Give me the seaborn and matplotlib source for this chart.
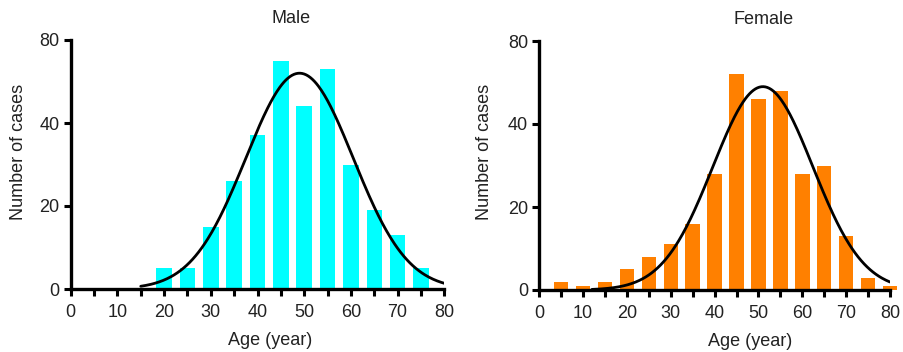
import numpy as np
import pandas as pd
import seaborn as sns
import matplotlib
matplotlib.use("Agg")
import matplotlib.pyplot as plt
from matplotlib.ticker import MultipleLocator

# ---- data ----
male_age = [20, 25, 30, 35, 40, 45, 50, 55, 60, 65, 70, 75]
male_cases = [5, 5, 15, 26, 37, 55, 44, 53, 30, 19, 13, 5]
female_age = [5, 10, 15, 20, 25, 30, 35, 40, 45, 50, 55, 60, 65, 70, 75, 80]
female_cases = [2, 1, 2, 5, 8, 11, 16, 28, 52, 46, 48, 28, 30, 13, 3, 1]

# fitted Gaussian curves (peak height, mean, sd, x-range)
male_fit = {"peak": 52, "mean": 49, "sd": 11.5, "start": 15, "end": 80}
female_fit = {"peak": 49, "mean": 51, "sd": 11.4, "start": 12, "end": 80}

x_ticks = [0, 10, 20, 30, 40, 50, 60, 70, 80]
y_ticks = [0, 20, 40, 60]
y_tick_labels = ["0", "20", "40", "80"]

titles = ["Male", "Female"]
x_label = "Age (year)"
y_label = "Number of cases"
colors = ["#00FFFF", "#FF8000"]

sns.set_theme(style="white")
plt.rcParams["font.family"] = ["Liberation Sans", "DejaVu Sans"]
FS = 13

fig = plt.figure(figsize=(9.04, 3.52), dpi=100)
W, H = 904, 352


def px_axes(x0, x1, ytop, ybot):
    return fig.add_axes([x0 / W, 1 - ybot / H, (x1 - x0) / W, (ybot - ytop) / H])


axes = [px_axes(70.7, 444.3, 40, 289), px_axes(539.3, 890, 41, 290)]
datasets = [(male_age, male_cases, male_fit), (female_age, female_cases, female_fit)]
title_x = [0.59, 0.64]
xlabel_x = [0.535, 0.60]

for i, (ax, (ages, cases, fit)) in enumerate(zip(axes, datasets)):
    df = pd.DataFrame({"age": ages, "cases": cases})
    sns.barplot(data=df, x="age", y="cases", native_scale=True, width=0.66,
                color=colors[i], saturation=1, linewidth=0, ax=ax, zorder=2)
    for p in ax.patches:
        p.set_clip_on(False)
    xs = np.linspace(fit["start"], fit["end"], 300)
    ys = fit["peak"] * np.exp(-0.5 * ((xs - fit["mean"]) / fit["sd"]) ** 2)
    sns.lineplot(x=xs, y=ys, color="black", linewidth=2, ax=ax, zorder=3)

    ax.set_xlim(0, 80)
    ax.set_ylim(0, 60)
    ax.set_xticks(x_ticks)
    ax.set_xticklabels([str(t) for t in x_ticks], fontsize=FS, color="#222222")
    ax.xaxis.set_minor_locator(MultipleLocator(5))
    ax.set_yticks(y_ticks)
    ax.set_yticklabels(y_tick_labels, fontsize=FS, color="#222222")
    ax.tick_params(axis="both", which="both", direction="out", length=5, width=2.2,
                   color="black", bottom=True, left=True)
    ax.tick_params(axis="x", which="major", pad=6)
    ax.tick_params(axis="y", which="major", pad=3)
    for s in ["top", "right"]:
        ax.spines[s].set_visible(False)
    for s in ["left", "bottom"]:
        ax.spines[s].set_linewidth(2.4)
        ax.spines[s].set_color("black")
        ax.spines[s].set_zorder(4)
    ax.set_xlabel("")
    ax.set_ylabel("")
    ax.text(xlabel_x[i], -0.205, x_label, transform=ax.transAxes, ha="center",
            va="center", fontsize=FS, color="#222222")
    ax.text(title_x[i], 1.085, titles[i], transform=ax.transAxes, ha="center",
            va="center", fontsize=FS, color="#222222")
    ax.set_facecolor("white")

fig.text(19 / W, 1 - 152 / H, y_label, rotation=90, ha="center", va="center",
         fontsize=FS, color="#222222")
fig.text(485 / W, 1 - 152 / H, y_label, rotation=90, ha="center", va="center",
         fontsize=FS, color="#222222")

fig.savefig("out.png", dpi=100, facecolor="white")
